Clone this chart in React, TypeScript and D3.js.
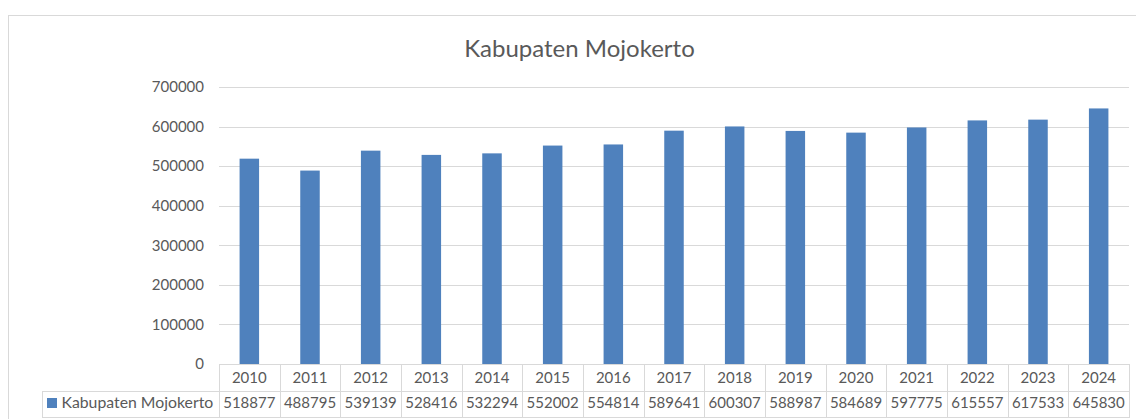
import React from "react";
import * as d3 from "d3";

const categories = ["2010","2011","2012","2013","2014","2015","2016","2017","2018","2019","2020","2021","2022","2023","2024"];
const values = [518877,488795,539139,528416,532294,552002,554814,589641,600307,588987,584689,597775,615557,617533,645830];
const yTicks = [0,100000,200000,300000,400000,500000,600000,700000];
const seriesName = "Kabupaten Mojokerto";
const title = "Kabupaten Mojokerto";

const W = 1136, H = 419;
const plotLeft = 219, plotRight = 1129, plotTop = 87, plotBottom = 364;
const rowMid = 391, rowBottom = 417, legendLeft = 42;
const font = "Lato, 'Open Sans', sans-serif";
const textColor = "#595959";
const gridColor = "#d9d9d9";
const barColor = "#4F81BD";

export default function App() {
  const x = d3.scaleBand<string>().domain(categories).range([plotLeft, plotRight]).padding(0);
  const y = d3.scaleLinear().domain([0, 700000]).range([plotBottom, plotTop]);
  const step = x.step();
  const bw = 19.5;
  return (
    <div style={{ position: "fixed", left: 0, top: 0 }}>
      <svg width={W} height={H} style={{ display: "block", background: "#fff" }}>
        <rect x={8.5} y={15.5} width={W + 20} height={H + 20} fill="#fff" stroke={gridColor} strokeWidth={1} />
        <text x={579.5} y={56.5} textAnchor="middle" fontFamily={font} fontSize={24} fill={textColor}>{title}</text>
        {yTicks.map((t) => (
          <g key={t}>
            {t > 0 && <line x1={plotLeft} x2={plotRight} y1={Math.round(y(t)) + 0.5} y2={Math.round(y(t)) + 0.5} stroke={gridColor} strokeWidth={1} />}
            <text x={204} y={y(t)} dy="0.35em" textAnchor="end" fontFamily={font} fontSize={15} fill={textColor}>{t}</text>
          </g>
        ))}
        {categories.map((c, i) => (
          <rect key={c} x={x(c)! + (step - bw) / 2} y={y(values[i])} width={bw} height={plotBottom - y(values[i])} fill={barColor} />
        ))}
        {/* data table */}
        <line x1={plotLeft} x2={plotRight} y1={plotBottom + 0.5} y2={plotBottom + 0.5} stroke={gridColor} />
        <line x1={legendLeft} x2={plotRight} y1={rowMid + 0.5} y2={rowMid + 0.5} stroke={gridColor} />
        <line x1={legendLeft} x2={plotRight} y1={rowBottom + 0.5} y2={rowBottom + 0.5} stroke={gridColor} />
        <line x1={legendLeft + 0.5} x2={legendLeft + 0.5} y1={rowMid} y2={rowBottom + 1} stroke={gridColor} />
        {categories.map((c) => (
          <line key={"v" + c} x1={Math.round(x(c)!) + 0.5} x2={Math.round(x(c)!) + 0.5} y1={plotBottom} y2={rowBottom + 1} stroke={gridColor} />
        ))}
        <line x1={plotRight + 0.5} x2={plotRight + 0.5} y1={plotBottom} y2={rowBottom + 1} stroke={gridColor} />
        {categories.map((c, i) => (
          <g key={"t" + c}>
            <text x={x(c)! + step / 2} y={383} textAnchor="middle" fontFamily={font} fontSize={15} fill={textColor}>{c}</text>
            <text x={x(c)! + step / 2} y={408} textAnchor="middle" fontFamily={font} fontSize={15} fill={textColor}>{values[i]}</text>
          </g>
        ))}
        <rect x={47} y={398} width={10} height={10} fill={barColor} />
        <text x={61.5} y={408} fontFamily={font} fontSize={15.8} fill={textColor}>{seriesName}</text>
      </svg>
    </div>
  );
}
